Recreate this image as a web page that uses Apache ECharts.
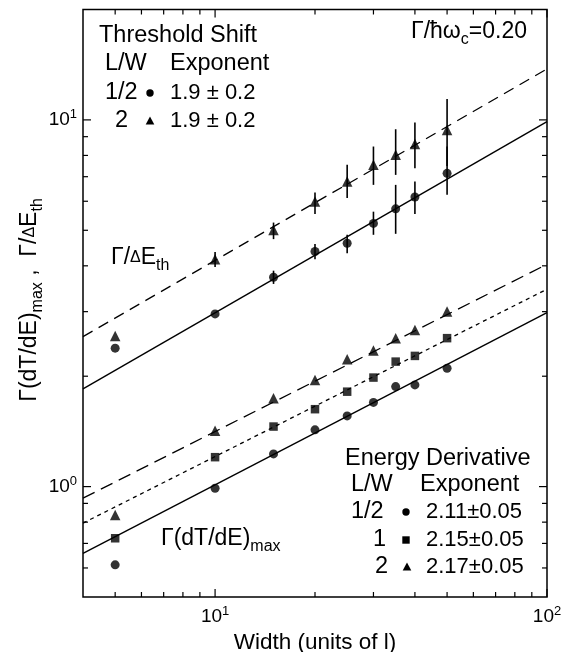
<!DOCTYPE html>
<html><head><meta charset="utf-8">
<script src="https://cdn.jsdelivr.net/npm/echarts@6/dist/echarts.min.js"></script>
<style>html,body{margin:0;padding:0;background:#fff}#c{width:564px;height:652px}</style>
</head><body><div id="c"></div>
<script>
const FONT = '"Liberation Sans", Arial, sans-serif';

// ---- data ----
const widths = [5, 10, 15, 20, 25, 30, 35, 40, 50];

// Threshold shift, Γ/ΔE_th
const thrCircle   = [2.385, 2.958, 3.724, 4.375, 4.61, 5.22, 5.72, 6.16, 7.15];
const thrCircleLo = [null, null, 3.57, 4.17, 4.33, 4.86, 4.89, 5.54, 6.25];
const thrCircleHi = [null, null, 3.88, 4.59, 4.86, 5.62, 6.65, 6.79, 8.46];
const thrTriangle   = [2.576, 4.17, 5.01, 5.99, 6.79, 7.54, 8.03, 8.60, 9.39];
const thrTriangleLo = [null, 3.97, 4.73, 5.54, 6.12, 6.65, 7.08, 7.38, 7.49];
const thrTriangleHi = [null, 4.365, 5.248, 6.34, 7.54, 8.46, 9.43, 9.83, 11.41];

// Energy derivative, Γ(dT/dE)_max
const edCircle   = [0.612, 0.990, 1.228, 1.428, 1.559, 1.697, 1.874, 1.894, 2.103];
const edSquare   = [0.723, 1.203, 1.458, 1.626, 1.815, 1.983, 2.192, 2.272, 2.540];
const edTriangle = [0.837, 1.421, 1.742, 1.954, 2.226, 2.349, 2.540, 2.675, 3.001];

// fitted power-law lines, values at fitX
const fitX = [4, 100];
const thrCircleFit   = [1.847, 9.89];
const thrTriangleFit = [2.565, 13.77];
const edTriangleFit  = [0.930, 4.04];
const edSquareFit    = [0.795, 3.454];
const edCircleFit    = [0.658, 2.982];

// axes
const xRange = [4, 100];
const yRange = [0.5, 20];
const xMajorTicks = [10, 100];
const xMinorTicks = [5, 6, 7, 8, 9, 20, 30, 40, 50, 60, 70, 80, 90];
const yMajorTicks = [1, 10];
const yMinorTicks = [0.6, 0.7, 0.8, 0.9, 2, 3, 4, 5, 6, 7, 8, 9];

// ---- chart ----
const chart = echarts.init(document.getElementById('c'));

const pts = ys => widths.map((x, i) => [x, ys[i]]);
const fit = ys => fitX.map((x, i) => [x, ys[i]]);
const bars = (lo, hi) => widths.map((x, i) => lo[i] == null ? null : [x, lo[i], hi[i]]).filter(Boolean);

const powLabel = v => {
  const lg = Math.log10(v), e = Math.round(lg);
  if (Math.abs(lg - e) > 1e-6) return '';
  return '{b|10}{s|' + e + '}';
};
const labelRich = {
  b: { fontSize: 19, fontFamily: FONT, color: '#000', lineHeight: 24 },
  s: { fontSize: 13, fontFamily: FONT, color: '#000', verticalAlign: 'top', lineHeight: 13 }
};

const lineBase = { type: 'line', symbol: 'none', silent: true, z: 2 };
const errBar = {
  type: 'custom', z: 3, silent: true,
  encode: { x: 0, y: [1, 2] },
  renderItem: (params, api) => {
    const p1 = api.coord([api.value(0), api.value(1)]);
    const p2 = api.coord([api.value(0), api.value(2)]);
    return { type: 'line', shape: { x1: p1[0], y1: p1[1], x2: p2[0], y2: p2[1] },
             style: { stroke: '#000', lineWidth: 1.6 } };
  }
};
const sc = (data, symbol, size) => ({ type: 'scatter', data: pts(data), symbol, symbolSize: size,
  itemStyle: { color: '#000' }, z: 4, silent: true });

chart.setOption({
  animation: false,
  backgroundColor: '#fff',
  grid: { left: 83, right: 17, top: 9.5, bottom: 55, show: true, borderColor: '#000', borderWidth: 1.5,
          containLabel: false, outerBoundsMode: 'none' },
  xAxis: {
    type: 'log', logBase: 10, min: xRange[0], max: xRange[1],
    axisLine: { show: false }, axisTick: { show: false }, splitLine: { show: false },
    axisLabel: { formatter: powLabel, rich: labelRich, margin: 8, showMinLabel: false },
    name: 'Width (units of l)', nameLocation: 'middle', nameGap: 28,
    nameTextStyle: { fontSize: 22.5, fontFamily: FONT, color: '#000' }
  },
  yAxis: {
    type: 'log', logBase: 10, min: yRange[0], max: yRange[1],
    axisLine: { show: false }, axisTick: { show: false }, splitLine: { show: false },
    axisLabel: { formatter: powLabel, rich: labelRich, margin: 6, showMinLabel: false, showMaxLabel: false }
  },
  series: [
    Object.assign({}, lineBase, { data: fit(thrCircleFit), lineStyle: { color: '#000', width: 1.4, type: 'solid' } }),
    Object.assign({}, lineBase, { data: fit(thrTriangleFit), lineStyle: { color: '#000', width: 1.3, type: [11, 7] } }),
    Object.assign({}, lineBase, { data: fit(edTriangleFit), lineStyle: { color: '#000', width: 1.3, type: [13, 7] } }),
    Object.assign({}, lineBase, { data: fit(edSquareFit), lineStyle: { color: '#000', width: 1.3, type: [4, 4] } }),
    Object.assign({}, lineBase, { data: fit(edCircleFit), lineStyle: { color: '#000', width: 1.4, type: 'solid' } }),
    Object.assign({}, errBar, { data: bars(thrCircleLo, thrCircleHi) }),
    Object.assign({}, errBar, { data: bars(thrTriangleLo, thrTriangleHi) }),
    sc(thrCircle, 'circle', 9),
    sc(thrTriangle, 'triangle', 10.5),
    sc(edCircle, 'circle', 9),
    sc(edSquare, 'rect', 8.5),
    sc(edTriangle, 'triangle', 10.5)
  ]
});

// ---- ticks & annotations ----
const toX = v => chart.convertToPixel({ xAxisIndex: 0 }, v);
const toY = v => chart.convertToPixel({ yAxisIndex: 0 }, v);
const L = toX(xRange[0]), R = toX(xRange[1]), T = toY(yRange[1]), B = toY(yRange[0]);
const g = [];
const ln = (x1, y1, x2, y2) => g.push({ type: 'line', silent: true, shape: { x1, y1, x2, y2 }, style: { stroke: '#000', lineWidth: 1.2 } });
xMajorTicks.concat(xMinorTicks).forEach(v => {
  const len = xMajorTicks.includes(v) ? 8 : 5, x = toX(v);
  ln(x, B, x, B - len); ln(x, T, x, T + len);
});
yMajorTicks.concat(yMinorTicks).forEach(v => {
  const len = yMajorTicks.includes(v) ? 8 : 5, y = toY(v);
  ln(L, y, L + len, y); ln(R, y, R - len, y);
});

const txt = (x, y, text, extra) => g.push(Object.assign({ type: 'text', x, y, silent: true,
  style: Object.assign({ text, fill: '#000', fontSize: 23.5, fontFamily: FONT, textVerticalAlign: 'middle', textAlign: 'left' }, extra || {}) }));
const dot = (cx, cy) => g.push({ type: 'circle', silent: true, shape: { cx, cy, r: 3.7 }, style: { fill: '#000' } });
const sq = (cx, cy) => g.push({ type: 'rect', silent: true, shape: { x: cx - 3.7, y: cy - 3.7, width: 7.4, height: 7.4 }, style: { fill: '#000' } });
const tri = (cx, cy) => g.push({ type: 'polygon', silent: true, shape: { points: [[cx, cy - 4.6], [cx + 4.3, cy + 3.6], [cx - 4.3, cy + 3.6]] }, style: { fill: '#000' } });

const richSub = {
  n: { fontSize: 23, fontFamily: FONT, color: '#000', lineHeight: 32 },
  d: { fontSize: 16, fontFamily: FONT, color: '#000', lineHeight: 32 },
  sub: { fontSize: 16, fontFamily: FONT, color: '#000', verticalAlign: 'bottom', lineHeight: 16 }
};
const valStyle = { fontSize: 22 };

// Threshold shift legend
txt(99, 36, 'Threshold Shift');
txt(105, 64, 'L/W'); txt(170, 64, 'Exponent');
txt(105, 93, '1/2'); dot(150, 93); txt(170, 93, '1.9 ± 0.2', valStyle);
txt(115, 121, '2'); tri(150, 121); txt(170, 121, '1.9 ± 0.2', valStyle);

// Γ/ħωc = 0.20
txt(527, 32, '{n|Γ/ħω}{sub|c}{n|=0.20}', { textAlign: 'right', rich: richSub });

// curve labels
txt(111, 258, '{n|Γ/}{d|Δ}{n|E}{sub|th}', { rich: richSub });
txt(161, 539, '{n|Γ(dT/dE)}{sub|max}', { rich: richSub });

// Energy derivative legend
txt(345, 459, 'Energy Derivative');
txt(351, 485, 'L/W'); txt(420, 485, 'Exponent');
txt(351, 512, '1/2'); dot(406, 512); txt(426, 512, '2.11±0.05', valStyle);
txt(373, 540, '1'); sq(406, 540); txt(426, 540, '2.15±0.05', valStyle);
txt(375, 567, '2'); tri(407, 567); txt(426, 567, '2.17±0.05', valStyle);

// y-axis title (rotated)
g.push({ type: 'text', x: 30, y: 300, rotation: Math.PI / 2, silent: true,
  style: { text: '{n|Γ(dT/dE)}{sub|max}{n| ,  Γ/}{d|Δ}{n|E}{sub|th}', rich: richSub,
           textAlign: 'center', textVerticalAlign: 'middle', fill: '#000' } });

chart.setOption({ graphic: { elements: g } });
</script>
</body></html>
